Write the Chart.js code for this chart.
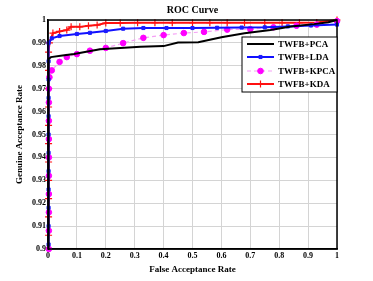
<!DOCTYPE html>
<html>
<head>
<meta charset="utf-8">
<script src="https://cdn.jsdelivr.net/npm/chart.js@4.4.1/dist/chart.umd.min.js"></script>
<style>
  body { margin: 0; background: #fff; }
  #wrap { width: 373px; height: 281px; }
</style>
</head>
<body>
<div id="wrap"><canvas id="roc" width="373" height="281"></canvas></div>
<script>
const chartTitle = 'ROC Curve';
const xTitle = 'False Acceptance Rate';
const yTitle = 'Genuine Acceptance Rate';
const seriesNames = ['TWFB+PCA', 'TWFB+LDA', 'TWFB+KPCA', 'TWFB+KDA'];

// TWFB+PCA (black, no markers)
const pcaX = [0, 0.002, 0.01, 0.05, 0.09, 0.18, 0.25, 0.32, 0.40, 0.45, 0.52, 0.60, 0.68, 0.77, 0.84, 0.92, 0.97, 1];
const pcaY = [0.9, 0.983, 0.9838, 0.9845, 0.9852, 0.9872, 0.9878, 0.9883, 0.9886, 0.9902, 0.9903, 0.9925, 0.9942, 0.9956, 0.9972, 0.9982, 0.999, 1];

// TWFB+LDA (blue squares)
const ldaX = [0.002, 0.002, 0.002, 0.002, 0.002, 0.002, 0.002, 0.002, 0.002, 0.002, 0.002, 0.002, 0.013, 0.04, 0.1, 0.145, 0.2, 0.26, 0.33, 0.41, 0.5, 0.585, 0.67, 0.75, 0.83, 0.91, 1];
const ldaY = [0.902, 0.91, 0.918, 0.926, 0.934, 0.942, 0.95, 0.958, 0.966, 0.974, 0.982, 0.99, 0.992, 0.993, 0.9939, 0.9944, 0.9952, 0.9962, 0.9965, 0.9965, 0.9965, 0.9966, 0.9967, 0.9968, 0.9972, 0.9976, 0.998];

// TWFB+KPCA (magenta dots, dashed)
const kpcaX = [0.003, 0.003, 0.003, 0.003, 0.003, 0.003, 0.003, 0.003, 0.003, 0.003, 0.005, 0.013, 0.04, 0.065, 0.1, 0.145, 0.2, 0.26, 0.33, 0.4, 0.47, 0.54, 0.62, 0.7, 0.78, 0.86, 0.93, 1];
const kpcaY = [0.9, 0.908, 0.916, 0.924, 0.932, 0.94, 0.948, 0.956, 0.964, 0.97, 0.975, 0.978, 0.9817, 0.9838, 0.9851, 0.9866, 0.9878, 0.9899, 0.9922, 0.9934, 0.9943, 0.9948, 0.9958, 0.996, 0.9968, 0.9975, 0.998, 0.9995];

// TWFB+KDA (red plus)
const kdaX = [0.002, 0.002, 0.002, 0.002, 0.002, 0.002, 0.002, 0.002, 0.002, 0.002, 0.002, 0.005, 0.017, 0.04, 0.065, 0.08, 0.11, 0.14, 0.17, 0.2, 0.25, 0.31, 0.37, 0.43, 0.5, 0.56, 0.62, 0.68, 0.75, 0.81, 0.87, 0.93, 1];
const kdaY = [0.906, 0.914, 0.922, 0.93, 0.938, 0.946, 0.954, 0.962, 0.97, 0.978, 0.986, 0.99, 0.9943, 0.995, 0.9956, 0.997, 0.997, 0.9975, 0.9978, 0.9987, 0.9987, 0.9988, 0.9988, 0.9988, 0.9988, 0.9988, 0.9988, 0.9988, 0.9988, 0.9988, 0.9988, 0.9989, 1];

const xTicks = [0, 0.1, 0.2, 0.3, 0.4, 0.5, 0.6, 0.7, 0.8, 0.9, 1];
const yTicks = [0.9, 0.91, 0.92, 0.93, 0.94, 0.95, 0.96, 0.97, 0.98, 0.99, 1];

function toPoints(xs, ys) {
    return xs.map((x, i) => ({ x: x, y: ys[i] }));
}

const serif = 'Liberation Serif';

// frame, title and the boxed legend inside the plot
const decorPlugin = {
    id: 'decor',
    afterDraw(chart) {
        const ctx = chart.ctx;
        const a = chart.chartArea;
        ctx.save();
        ctx.strokeStyle = '#000';
        ctx.lineWidth = 1.5;
        ctx.strokeRect(a.left, a.top, a.right - a.left, a.bottom - a.top);

        ctx.fillStyle = '#000';
        ctx.font = 'bold 10px "' + serif + '"';
        ctx.textAlign = 'center';
        ctx.textBaseline = 'middle';
        ctx.fillText(chartTitle, (a.left + a.right) / 2, 10);

        // legend box
        const bx = 242, by = 37, bw = a.right - 242, bh = 55;
        ctx.fillStyle = '#fff';
        ctx.fillRect(bx, by, bw, bh);
        ctx.lineWidth = 1;
        ctx.strokeStyle = '#000';
        ctx.strokeRect(bx, by, bw, bh);

        const rows = [44, 57, 71, 84];
        chart.data.datasets.forEach((ds, i) => {
            const y = rows[i];
            ctx.save();
            ctx.strokeStyle = ds.borderColor;
            ctx.lineWidth = ds.borderWidth;
            ctx.setLineDash(ds.borderDash || []);
            ctx.beginPath();
            ctx.moveTo(247, y);
            ctx.lineTo(274, y);
            ctx.stroke();
            ctx.restore();
            if (ds.pointRadius > 0) {
                ctx.fillStyle = ds.pointBackgroundColor;
                ctx.strokeStyle = ds.pointBorderColor;
                ctx.lineWidth = ds.pointBorderWidth || 1;
                Chart.helpers.drawPoint(ctx, {
                    pointStyle: ds.pointStyle,
                    radius: ds.pointRadius,
                    borderWidth: ds.pointBorderWidth || 1
                }, 260.5, y);
            }
            ctx.fillStyle = '#000';
            ctx.font = 'bold 9px "' + serif + '"';
            ctx.textAlign = 'left';
            ctx.textBaseline = 'middle';
            ctx.fillText(ds.label, 278, y + 0.5);
        });
        ctx.restore();
    }
};

new Chart(document.getElementById('roc'), {
    type: 'scatter',
    data: {
        datasets: [
            {
                label: seriesNames[0],
                data: toPoints(pcaX, pcaY),
                showLine: true,
                borderColor: '#000',
                backgroundColor: '#000',
                borderWidth: 2,
                pointRadius: 0
            },
            {
                label: seriesNames[1],
                data: toPoints(ldaX, ldaY),
                showLine: true,
                borderColor: '#1010ff',
                borderWidth: 2,
                pointStyle: 'rect',
                pointRadius: 2.2,
                pointBackgroundColor: '#1a1aff',
                pointBorderColor: '#1a1aff',
                pointBorderWidth: 1
            },
            {
                label: seriesNames[2],
                data: toPoints(kpcaX, kpcaY),
                showLine: true,
                borderColor: '#f5a0f5',
                borderWidth: 1.2,
                borderDash: [4, 3],
                pointStyle: 'circle',
                pointRadius: 2.8,
                pointBackgroundColor: '#ff00ff',
                pointBorderColor: '#ff00ff',
                pointBorderWidth: 1
            },
            {
                label: seriesNames[3],
                data: toPoints(kdaX, kdaY),
                showLine: true,
                borderColor: '#ff1010',
                borderWidth: 2,
                pointStyle: 'cross',
                pointRadius: 3.5,
                pointBackgroundColor: '#ff1010',
                pointBorderColor: '#ff1010',
                pointBorderWidth: 1.2
            }
        ]
    },
    options: {
        responsive: false,
        animation: false,
        clip: false,
        layout: { padding: { top: 20, right: 36, left: 0, bottom: 0 } },
        plugins: {
            legend: { display: false },
            title: { display: false },
            tooltip: { enabled: false }
        },
        scales: {
            x: {
                type: 'linear',
                min: 0,
                max: 1,
                afterBuildTicks: scale => { scale.ticks = xTicks.map(v => ({ value: v })); },
                afterFit: scale => { scale.height = 32; },
                ticks: {
                    color: '#000',
                    font: { family: serif, size: 8, weight: 'bold' },
                    padding: 2,
                    maxRotation: 0,
                    callback: v => String(Number(v.toFixed(1)))
                },
                grid: { color: '#d4d4d4', lineWidth: 1, drawTicks: false },
                border: { color: '#000', width: 1.5 },
                title: {
                    display: true,
                    text: xTitle,
                    color: '#000',
                    font: { family: serif, size: 9, weight: 'bold' },
                    padding: { top: 0, bottom: 6 }
                }
            },
            y: {
                type: 'linear',
                min: 0.9,
                max: 1,
                afterBuildTicks: scale => { scale.ticks = yTicks.map(v => ({ value: v })); },
                afterFit: scale => { scale.width = 48; },
                ticks: {
                    color: '#000',
                    font: { family: serif, size: 8, weight: 'bold' },
                    padding: 2,
                    callback: v => String(Number(v.toFixed(2)))
                },
                grid: { color: '#d4d4d4', lineWidth: 1, drawTicks: false },
                border: { color: '#000', width: 1.5 },
                title: {
                    display: true,
                    text: yTitle,
                    color: '#000',
                    font: { family: serif, size: 9, weight: 'bold' },
                    padding: { top: 14, bottom: 0 }
                }
            }
        }
    },
    plugins: [decorPlugin]
});
</script>
</body>
</html>
